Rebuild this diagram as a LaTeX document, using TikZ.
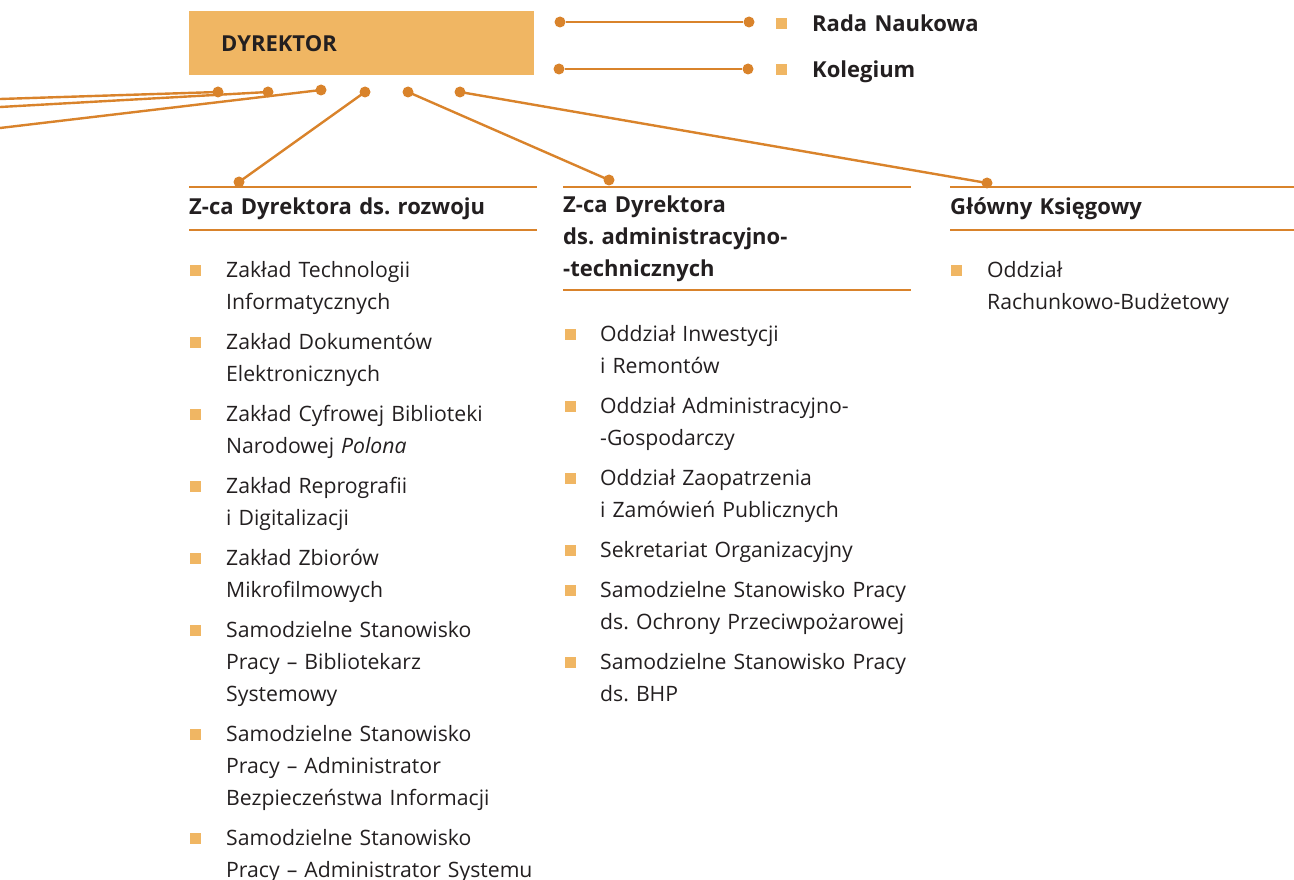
\documentclass[tikz,border=0pt]{standalone}
\usepackage{fontspec}
\setsansfont{Open Sans}
\usetikzlibrary{positioning,calc}
\definecolor{boxFill}{HTML}{F0B663}
\definecolor{wireCol}{HTML}{D9832B}
\definecolor{txtCol}{HTML}{231F20}
\frenchspacing

\begin{document}
\begin{tikzpicture}[
  x=1pt, y=-1pt,
  font=\fontsize{21.2}{32}\selectfont\sffamily, text=txtCol,
  boss/.style={fill=boxFill, minimum width=345pt, minimum height=64pt, text width=281pt, inner xsep=32pt, inner ysep=0pt, align=left, anchor=north west, font=\fontsize{22}{32}\selectfont\sffamily\bfseries},
  % nodes are placed at the baseline of their first line
  item/.style={anchor=north west, inner sep=0pt, text width=330pt, align=left, yshift=22.4pt, execute at begin node=\strut},
  head/.style={item, font=\fontsize{22}{32}\selectfont\sffamily\bfseries},
  sq/.style={fill=boxFill, minimum size=11pt, inner sep=0pt},
  pin/.style={circle, fill=wireCol, minimum size=11pt, inner sep=0pt},
  wire/.style={draw=wireCol, line width=2.4pt},
  rule/.style={draw=wireCol, line width=1.8pt}
]
\useasboundingbox (0,0) rectangle (1294,880);

% ============================================================
% DIRECTOR + attached bodies
% ============================================================
\node[boss] (dyr) at (189,11) {DYREKTOR};

\node[pin] (rn1) at (560,22) {};
\node[pin] (rn2) at (749,22) {};
\node[sq] (rnsq) at (781,24) {};
\node[head] (rn) at (812,31) {Rada Naukowa};
\draw[wire] (rn1) -- (rn2);

\node[pin] (kol1) at (559,69) {};
\node[pin] (kol2) at (748,69) {};
\node[sq] (kolsq) at (781,70) {};
\node[head] (kol) at (812,77) {Kolegium};
\draw[wire] (kol1) -- (kol2);

% ============================================================
% PINS under the director
% ============================================================
\node[pin] (p1) at (218,92) {};
\node[pin] (p2) at (268,92) {};
\node[pin] (p3) at (321,90) {};
\node[pin] (p4) at (365,92) {};
\node[pin] (p5) at (408,92) {};
\node[pin] (p6) at (460,92) {};

% lines leaving the page on the left
\coordinate (out1) at (0,99);
\coordinate (out2) at (0,107);
\coordinate (out3) at (0,128);
\draw[wire] (p1.center) -- (out1);
\draw[wire] (p2.center) -- (out2);
\draw[wire] (p3.center) -- (out3);

% ============================================================
% DEPUTIES / CHIEF ACCOUNTANT headings
% ============================================================
\node[pin] (d1) at (239,182) {};
\node[pin] (d2) at (609,180) {};
\node[pin] (d3) at (987,183) {};
\draw[wire] (p4.center) -- (d1.center);
\draw[wire] (p5.center) -- (d2.center);
\draw[wire] (p6.center) -- (d3.center);

\draw[rule] (189,187) -- (537,187);
\draw[rule] (189,230) -- (537,230);
\node[head] (zrozw) at (189,214) {Z-ca Dyrektora ds. rozwoju};

\draw[rule] (563,187) -- (911,187);
\draw[rule] (563,290) -- (911,290);
\node[head] (zadm) at (563,212) {Z-ca Dyrektora\\ds. administracyjno-\\-technicznych};

\draw[rule] (950,187) -- (1294,187);
\draw[rule] (950,230) -- (1294,230);
\node[head] (gk) at (950,214) {Główny Księgowy};

% ============================================================
% UNITS under Z-ca ds. rozwoju
% ============================================================
\node[sq] at (195,270) {};
\node[item] (r1) at (226,277) {Zakład Technologii\\Informatycznych};
\node[sq] at (195,342) {};
\node[item] (r2) at (226,349) {Zakład Dokumentów\\Elektronicznych};
\node[sq] at (195,414) {};
\node[item] (r3) at (226,421) {Zakład Cyfrowej Biblioteki\\Narodowej \textit{Polona}};
\node[sq] at (195,486) {};
\node[item] (r4) at (226,493) {Zakład Reprografii\\i Digitalizacji};
\node[sq] at (195,558) {};
\node[item] (r5) at (226,565) {Zakład Zbiorów\\Mikrofilmowych};
\node[sq] at (195,630) {};
\node[item] (r6) at (226,637) {Samodzielne Stanowisko\\Pracy – Bibliotekarz\\Systemowy};
\node[sq] at (195,734) {};
\node[item] (r7) at (226,741) {Samodzielne Stanowisko\\Pracy – Administrator\\Bezpieczeństwa Informacji};
\node[sq] at (195,838) {};
\node[item] (r8) at (226,845) {Samodzielne Stanowisko\\Pracy – Administrator Systemu};

% ============================================================
% UNITS under Z-ca ds. administracyjno-technicznych
% ============================================================
\node[sq] at (570,334) {};
\node[item] (a1) at (600,341) {Oddział Inwestycji\\i Remontów};
\node[sq] at (570,406) {};
\node[item] (a2) at (600,413) {Oddział Administracyjno-\\-Gospodarczy};
\node[sq] at (570,478) {};
\node[item] (a3) at (600,485) {Oddział Zaopatrzenia\\i Zamówień Publicznych};
\node[sq] at (570,550) {};
\node[item] (a4) at (600,557) {Sekretariat Organizacyjny};
\node[sq] at (570,590) {};
\node[item] (a5) at (600,597) {Samodzielne Stanowisko Pracy\\ds. Ochrony Przeciwpożarowej};
\node[sq] at (570,662) {};
\node[item] (a6) at (600,669) {Samodzielne Stanowisko Pracy\\ds. BHP};

% ============================================================
% UNITS under Główny Księgowy
% ============================================================
\node[sq] at (956,270) {};
\node[item] (k1) at (987,277) {Oddział\\Rachunkowo-Budżetowy};

\end{tikzpicture}
\end{document}
